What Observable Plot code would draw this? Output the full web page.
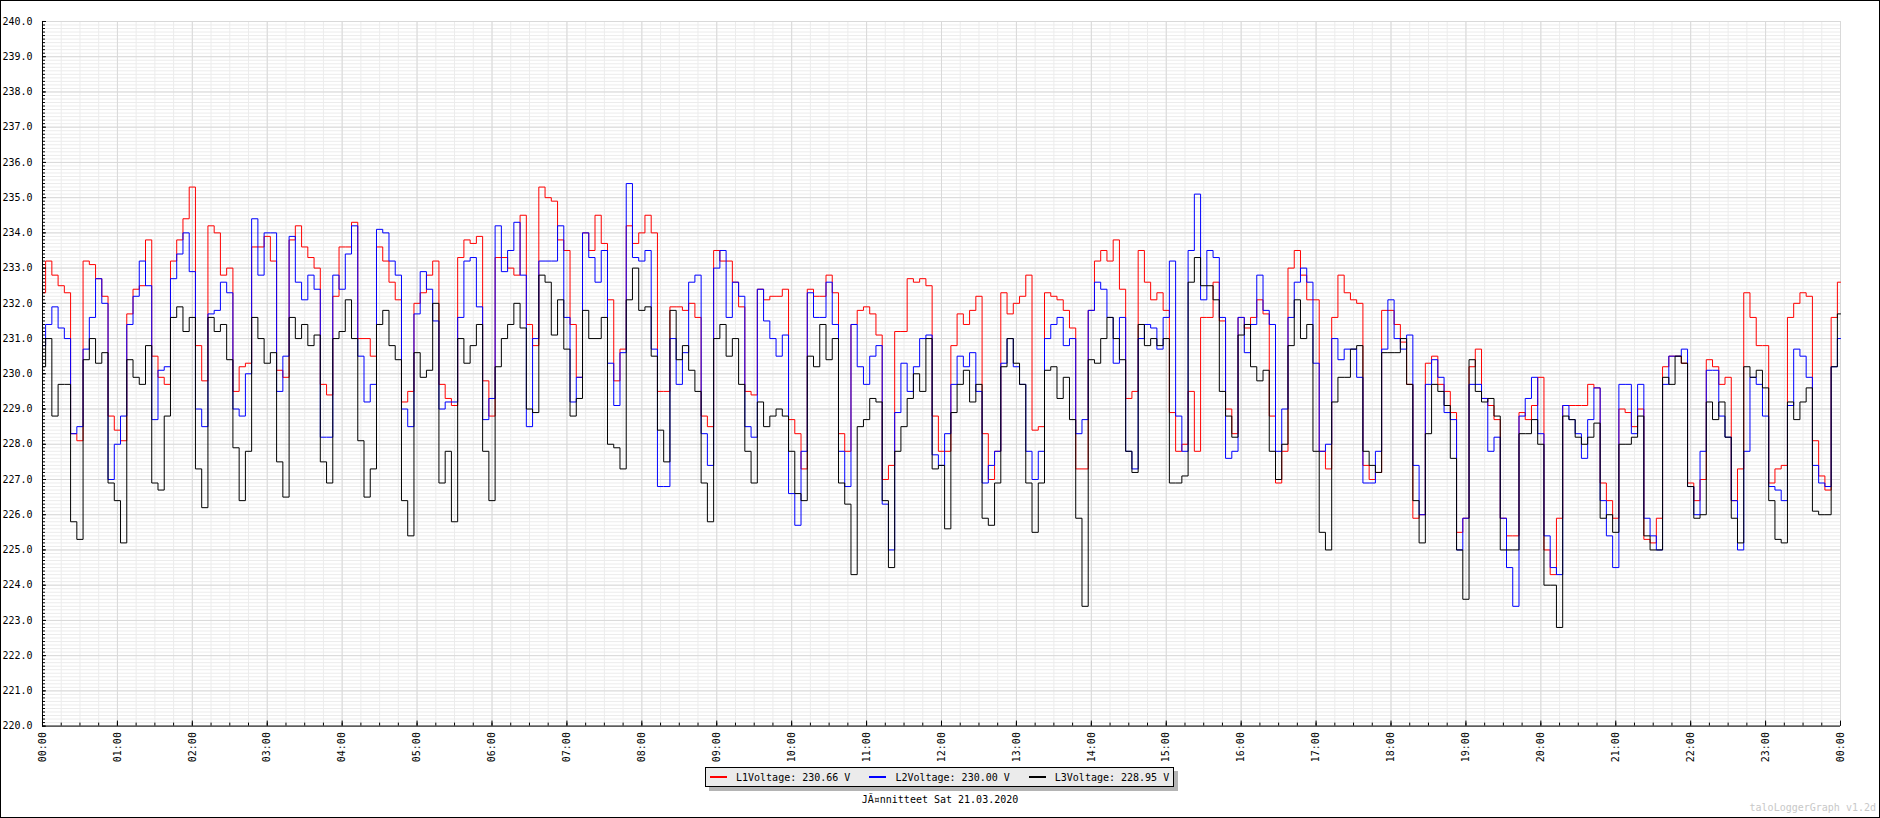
<!DOCTYPE html>
<html>
<head>
<meta charset="utf-8">
<script src="https://cdn.jsdelivr.net/npm/d3@7"></script>
<script src="https://cdn.jsdelivr.net/npm/@observablehq/plot@0.6"></script>
<style>
  html, body { margin: 0; padding: 0; background: #fff; }
  #frame { position: relative; width: 1880px; height: 818px; box-sizing: border-box; border: 1px solid #000; background: #fff; overflow: hidden; font-family: "DejaVu Sans Mono", monospace; font-size: 10px; color: #000; }
  #chart { position: absolute; left: -1px; top: -1px; }
  #legend { position: absolute; left: 704px; top: 766px; width: 469px; height: 20px; box-sizing: border-box; background: #ebebeb; border: 1px solid #000; box-shadow: 4px 4px 0 #b4b4b4; display: flex; align-items: center; padding-left: 4px; gap: 19px; white-space: pre; }
  .item { display: flex; align-items: center; }
  .swatch { width: 17px; height: 2px; margin-right: 9px; }
  #title { position: absolute; left: -1px; width: 1880px; top: 793px; text-align: center; white-space: pre; }
  #mark { position: absolute; right: 3px; top: 801px; color: #c8c8c8; white-space: pre; }
</style>
</head>
<body>
<div id="frame">
  <div id="chart"></div>
  <div id="legend"></div>
  <div id="title"></div>
  <div id="mark">taloLoggerGraph v1.2d</div>
</div>
<script>
// ---- data (5-minute samples from 00:00 to 24:00) ----
const seriesNames = ["L1Voltage", "L2Voltage", "L3Voltage"];
const seriesColors = ["#ff0000", "#0000ff", "#000000"];
const legendValues = ["230.66", "230.00", "228.95"];
const titleText = "JÃ¤nnitteet Sat 21.03.2020";
const stepMinutes = 5;

const L1 = [
232.3,233.2,232.8,232.5,232.3,228.3,228.1,233.2,233.1,232.7,232.2,228.8,
228.4,228.1,231.7,232.4,232.5,233.8,230.5,229.9,229.7,233.2,233.8,234.4,
235.3,230.8,229.8,234.2,234.0,232.8,233.0,229.5,230.2,230.3,233.6,233.6,
233.9,233.2,230.1,229.9,233.8,234.2,233.6,233.3,233.0,229.7,229.4,232.2,
233.6,233.6,234.3,231.0,231.0,230.5,233.6,233.2,232.6,232.1,229.2,229.5,
232.0,232.3,232.8,233.2,229.7,229.3,229.1,233.3,233.8,233.7,233.9,229.8,
228.8,233.3,233.3,233.0,232.8,234.5,231.4,230.8,235.3,235.0,234.9,233.8,
233.5,231.4,229.9,234.0,233.5,234.5,233.7,232.1,229.8,230.7,234.2,233.7,
234.0,234.5,234.0,229.5,229.5,231.9,231.9,231.8,232.0,231.6,228.8,228.5,
233.5,233.2,233.2,232.6,231.9,229.5,229.4,232.4,232.1,232.2,232.2,232.4,
228.7,228.3,227.3,232.4,232.2,232.2,232.8,232.3,228.3,227.8,231.4,231.8,
231.9,231.7,231.1,227.0,227.4,231.2,231.2,232.7,232.6,232.7,232.5,228.8,
227.8,227.8,230.8,231.7,231.4,231.8,232.2,228.3,227.0,227.8,232.3,231.7,
232.0,232.2,232.8,228.4,228.5,232.3,232.2,232.1,231.8,231.3,227.3,227.3,
231.8,233.2,233.5,233.2,233.8,232.4,229.3,229.5,233.5,232.6,232.1,232.3,
231.8,228.9,227.8,228.0,229.5,227.8,231.6,231.6,232.6,231.5,229.0,228.3,
231.6,231.3,231.6,232.1,231.7,228.8,226.9,227.8,233.0,233.5,232.8,232.1,
232.1,227.8,227.3,231.6,232.8,232.3,232.1,232.0,227.4,227.0,227.2,231.8,
231.8,231.4,230.9,229.7,225.9,226.0,230.3,230.5,229.7,229.5,228.9,225.5,
225.9,230.2,230.7,229.3,229.1,228.7,225.9,225.4,225.4,228.9,228.7,229.1,
229.9,225.0,224.3,225.9,229.1,229.1,229.1,229.1,229.7,229.6,226.9,226.4,
225.9,229.0,228.9,228.5,229.0,225.3,225.2,225.9,230.2,230.5,230.5,230.3,
226.9,226.4,227.0,230.4,230.2,229.7,229.9,226.4,227.3,232.3,231.6,230.8,
230.8,226.9,227.3,227.4,231.6,232.0,232.3,232.2,228.1,227.1,226.7,231.6,
232.6];

const L2 = [
230.8,231.4,231.9,231.3,231.0,228.3,228.5,230.7,231.6,232.7,232.0,227.0,
228.0,228.8,231.4,232.2,233.2,232.5,228.7,230.1,230.2,232.7,233.4,234.0,
232.9,229.0,228.5,231.7,231.8,232.6,232.3,229.0,228.8,230.0,234.4,232.8,
234.0,234.0,229.5,230.5,233.9,232.6,232.1,232.8,232.4,228.2,228.2,232.8,
232.4,233.4,234.2,230.5,229.2,229.7,234.1,234.0,233.2,232.8,229.0,228.5,
231.7,232.9,232.4,231.5,229.0,229.2,229.2,231.6,233.2,233.3,231.9,228.7,
229.3,234.2,232.9,233.5,234.3,232.8,228.5,231.0,233.2,233.2,233.2,234.2,
231.6,229.2,229.9,234.0,233.3,232.6,233.5,230.3,229.1,230.6,235.4,233.3,
233.2,233.5,230.7,226.8,226.8,231.0,229.7,230.6,232.6,232.8,228.3,227.4,
233.0,233.5,231.6,232.6,232.2,228.5,228.2,232.4,231.5,231.0,230.5,231.1,
226.6,225.7,227.8,232.3,231.6,231.6,232.6,231.4,227.8,226.8,231.4,230.2,
229.7,230.5,230.8,226.3,225.0,228.9,230.3,229.5,230.2,231.0,231.1,227.7,
227.4,228.3,229.7,230.5,230.2,230.6,229.5,226.9,227.4,227.8,230.3,231.0,
230.2,229.7,227.8,227.0,227.8,231.0,231.4,231.6,230.8,231.0,228.3,228.7,
231.8,232.6,232.4,231.6,230.3,231.6,227.8,227.3,231.0,231.4,231.3,230.7,
231.6,233.2,228.8,227.8,233.5,235.1,232.1,233.5,233.3,231.6,227.6,227.8,
231.6,230.6,231.4,232.8,231.8,231.4,227.8,229.0,231.6,232.6,233.0,232.6,
230.3,227.8,228.0,231.0,230.4,230.7,230.7,229.9,226.9,226.9,227.8,230.7,
232.1,231.0,230.7,231.1,227.4,226.0,229.7,230.4,229.9,228.9,228.7,225.0,
225.9,229.7,229.7,229.3,227.8,228.2,225.9,224.5,223.4,228.8,229.3,229.9,
228.3,225.4,224.5,224.3,229.1,228.7,228.3,227.6,228.7,229.6,226.4,225.4,
224.5,229.7,229.7,228.3,229.7,225.9,225.4,225.0,229.7,230.5,230.5,230.7,
226.8,226.0,227.8,230.1,230.1,228.8,228.2,226.4,225.0,227.8,229.9,229.7,
228.8,226.8,226.7,226.4,229.1,230.7,230.5,229.9,227.4,226.9,226.8,230.2,
231.0];

const L3 = [
230.2,231.0,228.8,229.7,229.7,225.8,225.3,230.4,231.0,230.3,230.6,226.9,
226.4,225.2,230.4,229.9,229.7,230.8,226.9,226.7,228.8,231.6,231.9,231.2,
231.6,227.3,226.2,231.6,231.2,231.4,230.4,227.9,226.4,227.8,231.6,231.0,
230.3,230.6,227.5,226.5,231.6,231.0,231.4,230.8,231.1,227.5,226.9,231.0,
231.2,232.1,231.0,228.1,226.5,227.3,231.4,231.8,230.8,230.4,226.4,225.4,
230.6,229.9,230.1,232.0,226.9,227.8,225.8,231.0,230.3,230.8,231.4,227.8,
226.4,230.2,231.0,231.4,232.0,231.3,229.0,228.9,232.8,232.6,231.1,232.1,
230.7,228.8,229.3,231.8,231.0,231.0,231.6,228.0,227.9,227.3,232.1,233.0,
231.8,231.9,230.5,228.4,227.5,231.8,230.4,230.8,230.1,229.5,226.9,225.8,
231.0,231.4,230.5,231.0,229.7,227.8,226.9,229.2,228.5,228.8,229.0,228.8,
227.8,226.6,226.4,230.5,230.2,231.4,230.4,231.0,226.9,226.3,224.3,228.5,
228.7,229.3,229.2,226.4,224.5,227.8,228.5,229.3,230.0,229.5,231.0,227.3,
227.4,225.6,228.9,229.7,230.1,229.2,229.7,225.9,225.7,226.9,230.2,231.0,
230.3,229.7,226.9,225.5,226.9,230.1,230.2,229.3,229.9,228.7,225.9,223.4,
230.4,230.3,231.0,231.6,231.0,230.4,227.8,227.2,231.4,230.8,231.0,230.8,
231.0,226.9,226.9,227.1,232.6,233.3,232.5,232.5,232.1,229.5,228.8,228.2,
231.1,231.4,230.2,229.8,230.1,227.8,227.0,228.0,230.8,232.1,231.0,231.4,
227.8,225.5,225.0,229.2,229.9,229.9,230.7,230.8,227.8,227.4,227.2,230.6,
230.6,230.6,231.0,229.7,226.4,225.2,228.3,229.7,229.5,229.1,227.6,225.0,
223.6,230.4,229.5,229.2,229.3,228.8,225.0,225.0,225.0,228.3,228.3,228.7,
228.0,224.0,224.0,222.8,228.8,228.7,228.2,228.0,228.2,228.6,225.9,226.0,
225.5,228.0,228.0,228.2,228.8,225.4,225.0,225.0,229.9,229.7,230.5,230.3,
226.8,225.9,226.0,229.2,228.7,229.2,228.2,225.9,225.2,230.2,229.9,230.1,
229.6,226.4,225.3,225.2,229.2,228.7,229.2,229.6,226.1,226.0,226.0,230.2,
231.7];

const allSeries = [L1, L2, L3];

// table built from arrays
const rows = [];
allSeries.forEach((vals, s) => vals.forEach((v, i) => rows.push({t: i * stepMinutes, v, s: seriesNames[s]})));

const majorX = d3.range(0, 25).map(h => h * 60);
const minorX = d3.range(0, 97).map(q => q * 15);
const majorY = d3.range(0, 21).map(i => 220 + i);
const minorY = d3.range(0, 201).map(i => 220 + i / 10);

const fmtTime = d => String(Math.round(d / 60) % 24).padStart(2, "0") + ":00";

const plot = Plot.plot({
  width: 1880,
  height: 770,
  marginLeft: 42,
  marginRight: 39,
  marginTop: 21,
  marginBottom: 44,
  style: {fontFamily: "DejaVu Sans Mono, monospace", fontSize: "10px", color: "#000", background: "#fff"},
  x: {type: "linear", domain: [0, 1440]},
  y: {domain: [220, 240]},
  marks: [
    Plot.ruleX(minorX, {stroke: "#ececec"}),
    Plot.ruleY(minorY, {stroke: "#ececec"}),
    Plot.ruleX(majorX, {stroke: "#d9d9d9"}),
    Plot.ruleY(majorY, {stroke: "#d9d9d9"}),
    ...seriesNames.map((name, s) => Plot.line(rows.filter(r => r.s === name), {
      x: "t", y: "v", stroke: seriesColors[s], strokeWidth: 1, curve: "step"
    })),
    Plot.ruleX([0], {stroke: "#000"}),
    Plot.ruleY([220], {stroke: "#000"}),
    Plot.axisY({anchor: "left", ticks: minorY, tickSize: -3, tickFormat: () => "", label: null}),
    Plot.axisY({anchor: "left", ticks: majorY, tickSize: -4, tickPadding: 14, tickFormat: d => d.toFixed(1), label: null}),
    Plot.axisX({anchor: "bottom", ticks: minorX, tickSize: -3, tickFormat: () => "", label: null}),
    Plot.axisX({anchor: "bottom", ticks: majorX, tickSize: -5, tickPadding: 11, tickRotate: -90, tickFormat: fmtTime, label: null})
  ]
});
document.getElementById("chart").appendChild(plot);

// legend
const legend = document.getElementById("legend");
seriesNames.forEach((name, s) => {
  const item = document.createElement("div");
  item.className = "item";
  const sw = document.createElement("div");
  sw.className = "swatch";
  sw.style.background = seriesColors[s];
  const tx = document.createElement("span");
  tx.textContent = `${name}: ${legendValues[s]} V`;
  item.appendChild(sw);
  item.appendChild(tx);
  legend.appendChild(item);
});
document.getElementById("title").textContent = titleText;
</script>
</body>
</html>
